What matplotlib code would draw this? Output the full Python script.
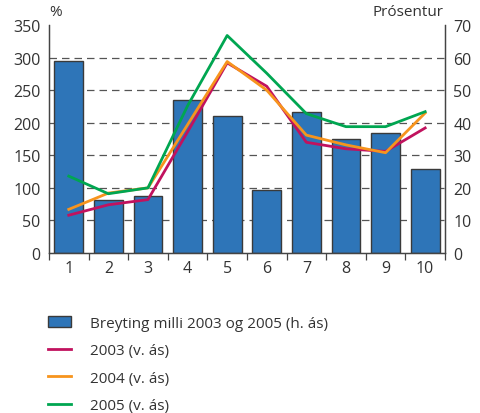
import matplotlib
matplotlib.use("Agg")
import matplotlib.pyplot as plt
import numpy as np
from matplotlib.patches import Patch
from matplotlib.lines import Line2D

plt.rcParams['font.family'] = ['Open Sans', 'DejaVu Sans']

categories = ['1', '2', '3', '4', '5', '6', '7', '8', '9', '10']
change_03_05 = [59.1, 16.2, 17.6, 47.0, 42.0, 19.2, 43.3, 35.0, 36.8, 25.7]
y2003 = [58, 74, 82, 186, 292, 256, 170, 160, 156, 192]
y2004 = [67, 92, 100, 197, 294, 250, 181, 166, 154, 215]
y2005 = [118, 91, 100, 226, 334, 276, 214, 194, 194, 217]

left_ticks = [0, 50, 100, 150, 200, 250, 300, 350]
right_ticks = [0, 10, 20, 30, 40, 50, 60, 70]

c_bar = '#2E75B8'
c_2003 = '#C1125E'
c_2004 = '#F7941D'
c_2005 = '#00A651'
c_text = '#333333'

fig = plt.figure(figsize=(4.8, 4.14), dpi=100)
ax = fig.add_axes([0.102, 0.3865, 0.825, 0.5505])
ax2 = ax.twinx()

x = np.arange(1, len(categories) + 1)

# Bars on the right axis, behind the lines
ax2.bar(x, change_03_05, width=0.73, color=c_bar, edgecolor='#3a3a3a', linewidth=1.0, zorder=2)
ax2.set_ylim(0, 70)
ax2.set_yticks(right_ticks)
for t in right_ticks[1:-1]:
    ax2.axhline(t, color='#555555', linestyle=(0, (6, 4)), linewidth=0.9, zorder=1)

ax.set_zorder(ax2.get_zorder() + 1)
ax.patch.set_visible(False)

ax.plot(x, y2003, color=c_2003, linewidth=2.0, zorder=3)
ax.plot(x, y2004, color=c_2004, linewidth=2.0, zorder=3)
ax.plot(x, y2005, color=c_2005, linewidth=2.0, zorder=3)
ax.set_ylim(0, 350)
ax.set_yticks(left_ticks)
ax.set_xlim(0.5, 10.5)

# Tick marks between categories, labels at category centres
ax.set_xticks(np.arange(0.5, 11.0, 1.0))
ax.set_xticklabels([])
ax.set_xticks(x, minor=True)
ax.set_xticklabels(categories, minor=True)
ax.tick_params(axis='x', which='major', length=5, width=0.9, color='#444444', direction='out')
ax.tick_params(axis='x', which='minor', length=0, pad=5, labelsize=11.5, labelcolor=c_text)
ax.tick_params(axis='y', length=0, pad=6, labelsize=11.5, labelcolor=c_text)
ax2.tick_params(axis='y', length=0, pad=6, labelsize=11.5, labelcolor=c_text)

for a in (ax, ax2):
    a.spines['top'].set_visible(False)
    for s in ('left', 'right', 'bottom'):
        a.spines[s].set_color('#444444')
        a.spines[s].set_linewidth(0.9)

fig.text(0.103, 0.952, '%', fontsize=11, color=c_text, ha='left', va='bottom')
fig.text(0.925, 0.952, 'Prósentur', fontsize=11, color=c_text, ha='right', va='bottom')

handles = [
    Patch(facecolor=c_bar, edgecolor='#3a3a3a', linewidth=1.0),
    Line2D([0], [0], color=c_2003, linewidth=2.0),
    Line2D([0], [0], color=c_2004, linewidth=2.0),
    Line2D([0], [0], color=c_2005, linewidth=2.0),
]
labels = ['Breyting milli 2003 og 2005 (h. ás)', '2003 (v. ás)', '2004 (v. ás)', '2005 (v. ás)']
fig.legend(handles, labels, loc='upper left', bbox_to_anchor=(0.088, 0.25), frameon=False,
           fontsize=11, labelcolor=c_text, handlelength=1.45, handleheight=0.75,
           handletextpad=1.25, labelspacing=0.82, borderaxespad=0)

fig.savefig('out.png', dpi=100)
